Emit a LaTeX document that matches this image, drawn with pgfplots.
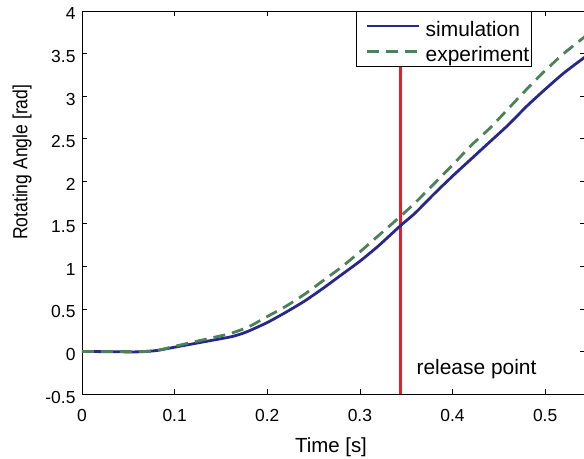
\documentclass[border=0pt]{standalone}
\usepackage{fontspec}
\setmainfont{Liberation Sans}
\usepackage{pgfplots}
\pgfplotsset{compat=1.18}
\definecolor{simblue}{RGB}{40,40,140}
\definecolor{expgreen}{RGB}{75,130,90}
\definecolor{relred}{RGB}{230,30,40}
\begin{document}
\begin{tikzpicture}
\begin{axis}[name=ax, scale only axis, width=503bp, height=383bp,
  xmin=0, xmax=0.543, ymin=-0.5, ymax=4,
  xtick={0,0.1,0.2,0.3,0.4,0.5},
  ytick={-0.5,0,0.5,1,1.5,2,2.5,3,3.5,4},
  xticklabels={0,0.1,0.2,0.3,0.4,0.5},
  yticklabels={-0.5,0,0.5,1,1.5,2,2.5,3,3.5,4},
  tick pos=both, xticklabel pos=bottom, yticklabel pos=left,
  tick align=inside, major tick length=5bp,
  tick style={black, line width=0.6bp},
  axis line style={black, line width=0.8bp},
  /pgf/number format/assume math mode=true,
  ticklabel style={font=\fontsize{17.5}{20}\selectfont, text=black},
  xticklabel style={yshift=-12bp},
  yticklabel style={xshift=-3bp, yshift=-3bp},
  xlabel={Time [s]}, ylabel={Rotating Angle [rad]},
  label style={font=\fontsize{20.5}{24}\selectfont},
  xlabel style={at={(axis description cs:0.495,-0.154)}, anchor=base},
  ylabel style={at={(axis description cs:-0.119,0.605)}, anchor=center, xscale=0.86},
  legend style={at={(axis description cs:0.544,1)}, anchor=north west,
    draw=black, line width=0.6bp, fill=white,
    font=\fontsize{21}{23}\selectfont,
    inner xsep=2bp, inner ysep=3bp, row sep=2.2bp, column sep=0bp,
    nodes={inner sep=0bp}},
  legend cell align=left,
  legend image code/.code={\path (0bp,0bp) (65bp,0bp); \draw[#1] (8bp,0bp) -- (60bp,0bp);},
]
\addplot[relred, line width=3bp, forget plot] coordinates {(0.3434,-0.5) (0.3434,4)};
\addplot[simblue, line width=2.8bp, smooth, tension=0.4] coordinates {
(0,0) (0.03,-0.003) (0.06,-0.005) (0.08,0.01) (0.1,0.05) (0.12,0.09)
(0.14,0.13) (0.16,0.17) (0.17,0.2) (0.18,0.24) (0.2,0.34) (0.22,0.46)
(0.24,0.59) (0.26,0.74) (0.28,0.9) (0.3,1.06) (0.32,1.24) (0.343,1.47)
(0.36,1.63) (0.38,1.85) (0.4,2.06) (0.42,2.26) (0.44,2.46) (0.46,2.66)
(0.48,2.88) (0.5,3.08) (0.52,3.27) (0.543,3.46)};
\addlegendentry{\rule[-4.7bp]{0pt}{26.7bp}simulation}
\addplot[expgreen, line width=2.8bp, dash pattern=on 12bp off 7bp, smooth, tension=0.4] coordinates {
(0,0) (0.03,0) (0.06,-0.003) (0.08,0.01) (0.1,0.06) (0.12,0.11)
(0.14,0.16) (0.16,0.21) (0.18,0.29) (0.2,0.41) (0.22,0.53) (0.24,0.67)
(0.26,0.83) (0.28,0.99) (0.3,1.17) (0.32,1.36) (0.343,1.58) (0.36,1.75)
(0.38,1.97) (0.4,2.19) (0.42,2.42) (0.44,2.62) (0.46,2.85) (0.48,3.08)
(0.5,3.3) (0.52,3.5) (0.543,3.7)};
\addlegendentry{\rule[-4.7bp]{0pt}{26.7bp}experiment}
\node[anchor=base west, font=\fontsize{21}{24}\selectfont, inner sep=0pt] at (axis cs:0.361,-0.266) {release point};
\end{axis}
\pgfresetboundingbox
\path[use as bounding box] ([xshift=-82bp,yshift=-65bp]ax.south west) rectangle ([xshift=-1bp,yshift=11bp]ax.north east);
\end{tikzpicture}
\end{document}
